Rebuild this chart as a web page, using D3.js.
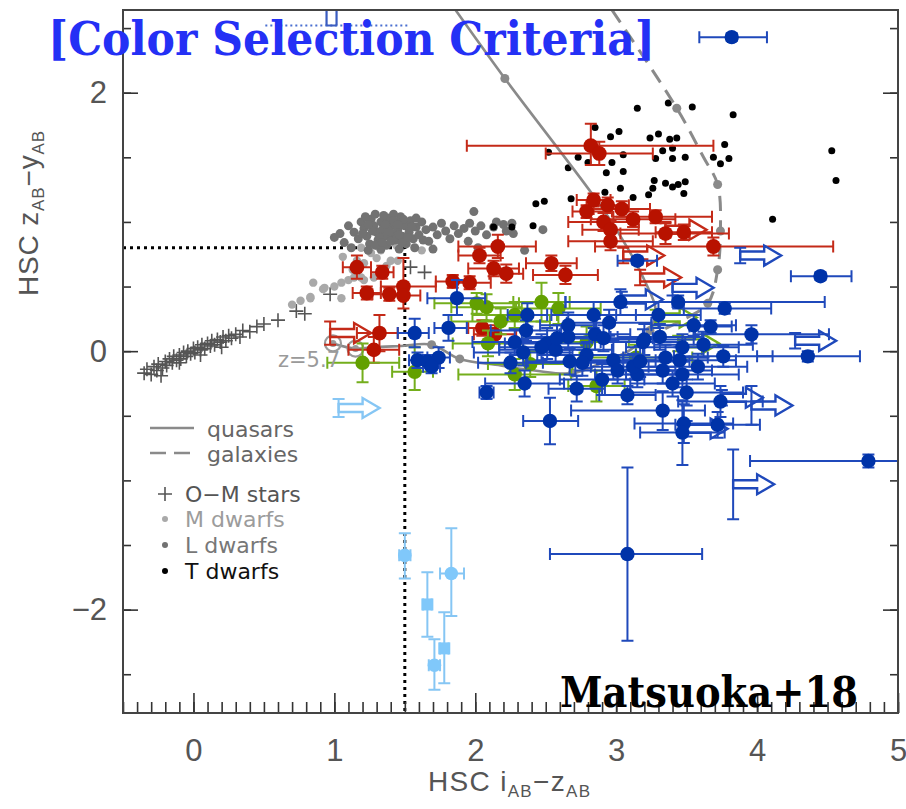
<!DOCTYPE html>
<html>
<head>
<meta charset="utf-8">
<script src="https://cdn.jsdelivr.net/npm/d3@7"></script>
<style>
  body { margin: 0; background: #fff; }
  svg { display: block; }
</style>
</head>
<body>
<svg id="chart" width="906" height="809"></svg>
<script>
// ---- Axis ticks -----------------------------------------------------------
const xTickLabels = [0, 1, 2, 3, 4, 5];
const yTickLabels = [-2, 0, 2];

// ---- Selection criteria corner (i-z > 1.5, z-y < 0.8) ---------------------
const cutIZ = 1.5;
const cutZY = 0.8;

// ---- Model tracks ---------------------------------------------------------
const quasarTrack = [[1.86,2.64],[2.21,2.11],[2.90,1.11],[3.08,0.80],[3.20,0.55],[3.28,0.32],[3.24,0.16],[3.10,0.01],[2.92,-0.08],[2.69,-0.17],[2.42,-0.15],[2.18,-0.11],[1.89,-0.06],[1.69,0.05],[1.47,0.04],[1.27,0.03],[1.15,0.02],[0.99,0.06]];
const quasarTrackDots = [[2.21,2.11],[1.69,0.05],[1.89,-0.06],[2.69,-0.17],[3.24,0.16]];
const quasarStart = [[0.99,0.06],[1.15,0.02]];
const galaxyTrack = [[2.97,2.64],[3.43,1.88],[3.62,1.50],[3.72,1.29],[3.74,0.94],[3.72,0.63],[3.65,0.37],[3.45,0.23],[3.28,0.14]];
const galaxyTrackDots = [[3.43,1.88],[3.72,1.29],[3.74,0.93],[3.72,0.63],[3.65,0.37]];

// ---- Stellar loci ---------------------------------------------------------
const omStars = [[-0.35,-0.17],[-0.33,-0.14],[-0.30,-0.18],[-0.28,-0.12],[-0.26,-0.15],[-0.25,-0.10],[-0.22,-0.13],[-0.20,-0.08],[-0.19,-0.11],[-0.17,-0.06],[-0.15,-0.09],[-0.14,-0.04],[-0.12,-0.07],[-0.10,-0.03],[-0.09,-0.06],[-0.07,-0.01],[-0.05,-0.04],[-0.04,0.00],[-0.02,-0.02],[0.00,0.02],[0.01,-0.01],[0.03,0.03],[0.05,0.01],[0.06,0.05],[0.08,0.02],[0.10,0.06],[0.12,0.04],[0.13,0.08],[0.15,0.05],[0.17,0.09],[0.19,0.07],[0.21,0.11],[0.23,0.08],[0.25,0.12],[0.27,0.10],[0.30,0.13],[0.33,0.11],[0.35,0.16],[0.40,0.15],[0.45,0.19],[0.50,0.21],[0.60,0.24],[0.73,0.31],[0.79,0.29],[0.97,0.44],[1.54,0.65],[1.64,0.61],[-0.23,-0.19],[-0.10,-0.09],[0.05,-0.03],[0.20,0.03]];
const mDwarfs = [[0.76,0.39],[0.70,0.36],[0.83,0.41],[0.92,0.48],[1.00,0.50],[1.05,0.53],[1.10,0.55],[1.14,0.57],[1.21,0.55],[1.28,0.57],[1.35,0.61],[0.85,0.53],[0.93,0.49],[1.06,0.73],[1.13,0.63],[1.19,0.57],[1.21,0.68],[1.26,0.76],[1.33,0.78],[1.40,0.70],[1.05,0.41],[0.83,0.42],[1.45,0.70],[1.62,0.78],[1.19,0.80],[1.44,0.82],[1.51,0.86],[1.30,0.72],[1.37,0.66],[1.16,0.70]];
const lDwarfs = [[1.00,0.88],[1.04,0.91],[1.07,0.84],[1.10,0.97],[1.14,0.92],[1.17,0.87],[1.19,1.00],[1.21,0.95],[1.23,0.89],[1.25,0.83],[1.26,1.02],[1.28,0.97],[1.30,0.92],[1.31,0.86],[1.33,1.00],[1.34,0.94],[1.36,0.89],[1.37,0.82],[1.38,1.03],[1.40,0.97],[1.41,0.91],[1.43,0.86],[1.44,1.00],[1.45,0.94],[1.47,1.04],[1.48,0.89],[1.50,0.97],[1.51,0.83],[1.53,0.92],[1.54,1.01],[1.56,0.87],[1.58,0.96],[1.60,0.90],[1.62,1.00],[1.65,0.94],[1.67,0.85],[1.70,0.96],[1.73,0.90],[1.76,0.99],[1.79,0.93],[1.82,0.87],[1.85,0.97],[1.88,0.91],[1.92,0.95],[1.96,0.99],[2.00,0.93],[2.04,0.97],[2.08,0.90],[2.13,0.96],[2.20,0.98],[2.27,0.91],[1.24,0.78],[1.33,0.79],[1.46,0.79],[1.12,0.80],[1.57,0.80],[1.70,0.79],[1.95,0.85],[2.02,0.80],[1.99,1.08],[2.15,1.00],[2.26,0.99],[2.48,0.94],[2.35,0.78],[2.22,0.93],[1.22,1.04],[1.29,1.06],[1.35,1.05],[1.42,1.06],[1.49,1.02],[1.27,0.93],[1.32,0.88],[1.39,0.93],[1.46,0.90],[1.52,0.88],[1.24,0.98],[1.36,0.98],[1.42,1.01],[1.55,0.96],[1.29,0.82],[1.40,0.85],[1.48,0.84],[1.58,1.03],[1.63,0.86],[1.20,0.91],[1.34,0.84],[1.45,0.98]];
const tDwarfs = [[3.15,1.88],[3.37,1.92],[3.54,1.89],[3.83,1.83],[2.85,1.73],[3.02,1.70],[2.96,1.66],[3.24,1.65],[3.30,1.68],[3.38,1.64],[3.43,1.65],[3.77,1.60],[2.52,1.54],[2.73,1.50],[3.05,1.52],[3.33,1.55],[3.40,1.57],[3.40,1.49],[3.49,1.50],[3.28,1.49],[3.69,1.50],[3.80,1.49],[3.74,1.45],[2.97,1.46],[2.66,1.42],[2.93,1.38],[3.05,1.39],[2.80,1.46],[3.27,1.32],[3.26,1.26],[3.35,1.30],[3.40,1.27],[3.44,1.29],[3.49,1.31],[3.48,1.22],[3.23,1.21],[3.12,1.19],[3.03,1.26],[2.92,1.23],[2.68,1.18],[2.49,1.16],[4.53,1.55],[4.56,1.32],[4.11,1.02],[2.41,0.97],[2.13,0.96],[2.26,0.96],[2.43,1.14]];

// ---- HSC quasar candidates: [i-z, z-y, -dx, +dx, -dy, +dy] ----------------
const redObjects = [[2.82,1.59,0.88,0.87,0.15,0.17],[2.88,1.53,0.38,0.38,0.09,0.09],[2.79,1.08,0.10,0.18,0.05,0.05],[2.94,1.13,0.15,0.15,0.06,0.06],[3.04,1.10,0.20,0.20,0.06,0.06],[2.91,1.00,0.25,0.25,0.07,0.07],[2.96,0.94,0.20,0.20,0.07,0.07],[2.96,0.85,0.30,0.30,0.07,0.07],[3.12,1.02,0.30,0.30,0.06,0.06],[3.28,1.04,0.30,0.40,0.05,0.05],[3.35,0.91,0.32,0.45,0.08,0.08],[3.48,0.92,0.20,0.20,0.06,0.06],[3.69,0.81,0.84,0.85,0.07,0.07],[2.84,1.17,0.12,0.12,0.05,0.05],[2.16,0.81,0.28,0.27,0.09,0.09],[2.03,0.74,0.15,0.15,0.06,0.06],[2.13,0.64,0.18,0.18,0.06,0.06],[2.22,0.60,0.12,0.12,0.07,0.07],[2.54,0.68,0.18,0.18,0.06,0.06],[2.64,0.59,0.23,0.23,0.07,0.07],[1.96,0.53,0.15,0.15,0.05,0.05],[1.84,0.54,0.12,0.12,0.05,0.05],[1.16,0.65,0.10,0.10,0.09,0.09],[1.34,0.61,0.08,0.08,0.05,0.05],[1.23,0.45,0.10,0.10,0.05,0.05],[1.39,0.44,0.12,0.12,0.05,0.05],[1.49,0.50,0.16,0.23,0.06,0.22],[1.49,0.43,0.12,0.12,0.10,0.04],[1.32,0.14,0.16,0.13,0.14,0.14],[1.28,0.01,0.18,0.18,0.10,0.10],[2.05,0.18,0.10,0.10,0.06,0.06],[2.14,0.13,0.15,0.15,0.07,0.07]];
const greenObjects = [[1.20,-0.09,0.25,0.26,0.15,0.15],[1.57,-0.16,0.16,0.13,0.14,0.19],[2.01,0.37,0.30,0.30,0.08,0.08],[2.08,0.34,0.25,0.25,0.10,0.10],[2.47,0.38,0.20,0.20,0.15,0.15],[2.59,0.33,0.30,0.30,0.12,0.12],[2.09,0.06,0.25,0.25,0.10,0.10],[2.18,0.23,0.35,0.35,0.10,0.10],[2.28,0.28,0.30,0.30,0.10,0.10],[2.28,-0.18,0.40,0.40,0.12,0.12],[2.39,-0.10,0.30,0.30,0.10,0.10],[2.79,0.07,0.30,0.30,0.12,0.12],[2.86,-0.27,0.20,0.20,0.12,0.12],[3.14,-0.05,0.40,0.40,0.10,0.10]];
const blueObjects = [[3.82,2.43,0.23,0.25,0.03,0.03],[4.45,0.58,0.21,0.22,0.03,0.03],[3.08,-1.57,0.55,0.53,0.67,0.67],[4.79,-0.85,0.84,0.50,0.05,0.05],[2.53,-0.54,0.19,0.20,0.18,0.18],[2.08,-0.32,0.05,0.05,0.05,0.05],[1.87,0.41,0.21,0.20,0.13,0.14],[1.57,0.14,0.12,0.10,0.11,0.11],[1.81,0.18,0.10,0.13,0.10,0.10],[1.59,-0.07,0.06,0.07,0.06,0.06],[1.66,-0.08,0.07,0.07,0.05,0.05],[1.74,-0.05,0.08,0.08,0.08,0.08],[1.69,-0.12,0.06,0.06,0.05,0.05],[2.25,-0.09,0.23,0.23,0.08,0.08],[2.37,0.28,0.14,0.14,0.09,0.09],[2.36,0.16,0.25,0.25,0.08,0.08],[2.28,0.07,0.30,0.30,0.10,0.10],[2.34,-0.01,0.35,0.35,0.10,0.10],[2.35,-0.25,0.28,0.28,0.10,0.10],[2.51,0.06,0.30,0.30,0.12,0.12],[2.57,0.01,0.40,0.40,0.10,0.10],[2.66,0.20,0.20,0.20,0.10,0.10],[2.66,0.11,0.30,0.30,0.10,0.10],[2.84,0.28,0.30,0.30,0.10,0.10],[2.85,0.13,0.25,0.25,0.12,0.12],[2.79,-0.03,0.35,0.35,0.10,0.10],[2.76,-0.09,0.40,0.40,0.10,0.10],[2.72,-0.29,0.20,0.20,0.10,0.10],[2.90,-0.22,0.30,0.30,0.12,0.12],[2.98,-0.07,0.30,0.30,0.15,0.15],[3.01,-0.15,0.30,0.30,0.10,0.10],[3.08,-0.34,0.20,0.20,0.07,0.07],[3.03,0.38,0.39,0.37,0.10,0.10],[3.20,0.09,0.35,0.35,0.12,0.12],[3.15,-0.18,0.30,0.30,0.10,0.10],[3.15,0.70,0.14,0.14,0.03,0.03],[3.44,0.38,0.80,1.04,0.05,0.05],[3.77,0.33,0.29,0.33,0.04,0.04],[3.30,0.28,0.30,0.30,0.10,0.10],[3.67,0.19,0.15,0.15,0.05,0.05],[3.96,0.13,0.40,0.55,0.07,0.07],[4.36,-0.04,0.36,0.37,0.04,0.04],[3.76,-0.04,0.35,0.35,0.08,0.08],[3.47,0.03,0.40,0.40,0.10,0.10],[3.31,0.11,0.30,0.30,0.10,0.10],[3.45,-0.07,0.40,0.40,0.10,0.10],[3.35,-0.05,0.30,0.30,0.10,0.10],[3.58,-0.12,0.35,0.35,0.10,0.10],[3.47,-0.18,0.40,0.40,0.10,0.10],[3.33,-0.15,0.35,0.35,0.10,0.10],[3.19,0.07,0.30,0.30,0.10,0.10],[3.50,-0.32,0.40,0.40,0.10,0.10],[3.74,-0.39,0.30,0.30,0.12,0.12],[3.33,-0.46,0.65,0.30,0.15,0.15],[3.48,-0.56,0.35,0.35,0.15,0.15],[3.47,-0.63,0.30,0.30,0.25,0.25],[3.72,-0.57,0.30,0.30,0.10,0.10],[3.12,-0.12,0.30,0.30,0.10,0.10],[2.58,0.10,0.25,0.25,0.10,0.10],[2.91,0.10,0.35,0.35,0.10,0.10],[2.47,0.03,0.30,0.30,0.10,0.10],[3.17,-0.08,0.35,0.35,0.12,0.12],[2.67,-0.08,0.30,0.30,0.10,0.10],[3.55,0.20,0.30,0.30,0.08,0.08],[3.62,0.05,0.35,0.35,0.10,0.10],[3.40,-0.25,0.30,0.30,0.10,0.10],[2.95,0.22,0.30,0.30,0.10,0.10]];
const lightBlueObjects = [[1.50,-1.58,0.04,0.04,0.18,0.17],[1.71,-2.43,0.04,0.04,0.19,0.20],[1.83,-1.72,0.08,0.09,0.33,0.35]];
const lightBlueSquares = [[1.66,-1.96,0.03,0.03,0.25,0.25],[1.78,-2.30,0.03,0.03,0.27,0.28]];

// Lower limits in i-z: [i-z, z-y, dy]
const redLimits = [[0.97,0.14,0.09],[3.05,0.74,0.06],[3.17,0.57,0.06],[3.35,0.94,0.06]];
const greenLimits = [[3.28,0.26,0.06],[3.44,0.06,0.06]];
const blueLimits = [[3.88,0.74,0.06],[3.40,0.49,0.06],[3.04,0.40,0.06],[4.27,0.08,0.06],[3.75,-0.36,0.06],[3.96,-0.42,0.15],[3.50,-0.60,0.06],[3.83,-1.03,0.27]];
const lightBlueLimits = [[1.03,-0.44,0.07]];
// Lower limit in z-y (clipped at the top) with its i-z range
const blueUpLimit = [[0.98,2.52,0.47,0.54]];

// ---- Layout -----------------------------------------------------------------
const svg = d3.select('#chart');
const L = 123, R = 898, T = 10, B = 713;
const x = d3.scaleLinear().domain([-0.5, 5.0]).range([L, R]);
const y = d3.scaleLinear().domain([-2.8, 2.64]).range([B, T]);

const COLORS = {
  red: '#b81200', redBar: '#c42a18',
  green: '#63a000', greenBar: '#74ae1c',
  blue: '#0033a8', blueBar: '#1f49bb',
  lblue: '#80c8fa', lblueBar: '#86c6f4'
};

svg.append('defs').append('clipPath').attr('id', 'plotClip')
  .append('rect').attr('x', L).attr('y', T).attr('width', R - L).attr('height', B - T);

const plot = svg.append('g').attr('clip-path', 'url(#plotClip)');

// selection criteria (dotted)
plot.append('path')
  .attr('d', `M${x(-0.5)},${y(cutZY)}L${x(cutIZ)},${y(cutZY)}L${x(cutIZ)},${y(-2.8)}`)
  .attr('fill', 'none').attr('stroke', '#000').attr('stroke-width', 3)
  .attr('stroke-dasharray', '3,4');

// O-M stars
plot.append('g').selectAll('path').data(omStars).join('path')
  .attr('d', d => `M${x(d[0]) - 7},${y(d[1])}h14M${x(d[0])},${y(d[1]) - 7}v14`)
  .attr('stroke', '#555').attr('stroke-width', 1.6).attr('fill', 'none');

// M, L, T dwarfs
plot.append('g').selectAll('circle').data(mDwarfs).join('circle')
  .attr('cx', d => x(d[0])).attr('cy', d => y(d[1])).attr('r', 4.2).attr('fill', '#a9a9a9');
plot.append('g').selectAll('circle').data(lDwarfs).join('circle')
  .attr('cx', d => x(d[0])).attr('cy', d => y(d[1])).attr('r', 4.5).attr('fill', '#727272');
plot.append('g').selectAll('circle').data(tDwarfs).join('circle')
  .attr('cx', d => x(d[0])).attr('cy', d => y(d[1])).attr('r', 3.5).attr('fill', '#000');

// model tracks
const line = d3.line().x(d => x(d[0])).y(d => y(d[1])).curve(d3.curveCatmullRom.alpha(0.5));
plot.append('path').datum(quasarTrack).attr('d', line)
  .attr('fill', 'none').attr('stroke', '#8a8a8a').attr('stroke-width', 2.6);
plot.append('path').datum(galaxyTrack).attr('d', line)
  .attr('fill', 'none').attr('stroke', '#8a8a8a').attr('stroke-width', 3)
  .attr('stroke-dasharray', '15,9');
plot.append('g').selectAll('circle').data(quasarTrackDots.concat(galaxyTrackDots)).join('circle')
  .attr('cx', d => x(d[0])).attr('cy', d => y(d[1])).attr('r', 4.5).attr('fill', '#8a8a8a');
const starts = plot.append('g');
starts.selectAll('circle.ring').data(quasarStart).join('circle').attr('class', 'ring')
  .attr('cx', d => x(d[0])).attr('cy', d => y(d[1])).attr('r', 8)
  .attr('fill', 'none').attr('stroke', '#9a9a9a').attr('stroke-width', 2.2);
starts.selectAll('circle.core').data(quasarStart).join('circle').attr('class', 'core')
  .attr('cx', d => x(d[0])).attr('cy', d => y(d[1])).attr('r', 3.5).attr('fill', '#9a9a9a');

svg.append('text').attr('x', 278).attr('y', 367).text('z=5.7')
  .attr('font-family', 'DejaVu Sans, sans-serif').attr('font-size', 21).attr('fill', '#9a9a9a');

// error bars and symbols
const CAP = 6;
function drawErrors(g, data, color) {
  data.forEach(d => {
    const [vx, vy, exl, exh, eyl, eyh] = d;
    const cx = x(vx), cy = y(vy);
    const x1 = x(vx - exl), x2 = x(vx + exh), y1 = y(vy - eyl), y2 = y(vy + eyh);
    const p = `M${x1},${cy}H${x2}M${x1},${cy - CAP}V${cy + CAP}M${x2},${cy - CAP}V${cy + CAP}` +
              `M${cx},${y1}V${y2}M${cx - CAP},${y1}H${cx + CAP}M${cx - CAP},${y2}H${cx + CAP}`;
    g.append('path').attr('d', p).attr('fill', 'none').attr('stroke', color).attr('stroke-width', 2);
  });
}
function drawLimits(g, data, color) {
  data.forEach(d => {
    const [vx, vy, ey] = d;
    const x0 = x(vx), cy = y(vy);
    const p = `M${x0},${cy - 4}H${x0 + 24}V${cy - 10}L${x0 + 41},${cy}L${x0 + 24},${cy + 10}V${cy + 4}H${x0}Z`;
    g.append('path').attr('d', p).attr('fill', 'none').attr('stroke', color)
      .attr('stroke-width', 2.4).attr('stroke-linejoin', 'miter');
    const y1 = y(vy - ey), y2 = y(vy + ey);
    g.append('path').attr('d', `M${x0},${y1}V${y2}M${x0 - CAP},${y1}H${x0 + CAP}M${x0 - CAP},${y2}H${x0 + CAP}`)
      .attr('fill', 'none').attr('stroke', color).attr('stroke-width', 2);
  });
}
function drawPoints(g, data, color, r) {
  g.selectAll(null).data(data).join('circle')
    .attr('cx', d => x(d[0])).attr('cy', d => y(d[1])).attr('r', r).attr('fill', color);
}

const red = plot.append('g');
drawErrors(red, redObjects, COLORS.redBar);
drawLimits(red, redLimits, COLORS.redBar);
drawPoints(red, redObjects, COLORS.red, 7.4);

const green = plot.append('g');
drawErrors(green, greenObjects, COLORS.greenBar);
drawLimits(green, greenLimits, COLORS.greenBar);
drawPoints(green, greenObjects, COLORS.green, 7.2);

const blue = plot.append('g');
drawErrors(blue, blueObjects, COLORS.blueBar);
drawLimits(blue, blueLimits, COLORS.blueBar);
drawPoints(blue, blueObjects, COLORS.blue, 7.2);
blueUpLimit.forEach(d => {
  const cx = x(d[0]), cy = y(d[1]);
  blue.append('path').attr('d', `M${x(d[0] - d[2])},${cy}H${x(d[0] + d[3])}`)
    .attr('stroke', '#4a6fd0').attr('stroke-width', 2).attr('stroke-dasharray', '2,3');
  blue.append('path').attr('d', `M${cx - 5},${cy}V${cy - 30}M${cx + 5},${cy}V${cy - 30}M${cx - 5},${cy}H${cx + 5}`)
    .attr('fill', 'none').attr('stroke', '#3a5cc0').attr('stroke-width', 2.2);
});

const lb = plot.append('g');
drawErrors(lb, lightBlueObjects.concat(lightBlueSquares), COLORS.lblueBar);
drawLimits(lb, lightBlueLimits, COLORS.lblueBar);
drawPoints(lb, lightBlueObjects, COLORS.lblue, 6.8);
lb.selectAll(null).data(lightBlueSquares).join('rect')
  .attr('x', d => x(d[0]) - 6).attr('y', d => y(d[1]) - 6).attr('width', 12).attr('height', 12)
  .attr('fill', COLORS.lblue);

// ---- Axes ---------------------------------------------------------------
const tickFont = 'Liberation Sans, Arial, sans-serif';
const fmt = d => (d < 0 ? '\u2212' + Math.abs(d) : String(d));
const axes = svg.append('g');

axes.append('g').attr('transform', `translate(0,${B})`)
  .call(d3.axisBottom(x).ticks(55).tickSize(-11).tickFormat(''));
axes.append('g').attr('transform', `translate(0,${B})`)
  .call(d3.axisBottom(x).tickValues(xTickLabels).tickSize(-20).tickPadding(26).tickFormat(fmt));
axes.append('g').attr('transform', `translate(${L},0)`)
  .call(d3.axisLeft(y).ticks(10).tickSize(-8).tickFormat(''));
axes.append('g').attr('transform', `translate(${L},0)`)
  .call(d3.axisLeft(y).tickValues(yTickLabels).tickSize(-15).tickPadding(16).tickFormat(fmt));
axes.append('g').attr('transform', `translate(${R},0)`)
  .call(d3.axisRight(y).ticks(10).tickSize(-8).tickFormat(''));
axes.append('g').attr('transform', `translate(${R},0)`)
  .call(d3.axisRight(y).tickValues(yTickLabels).tickSize(-15).tickFormat(''));

axes.selectAll('.domain').remove();
axes.selectAll('.tick line').attr('stroke', '#333').attr('stroke-width', 1.6);
axes.selectAll('.tick text').attr('font-family', tickFont).attr('font-size', 31).attr('fill', '#555');

svg.append('rect').attr('x', L).attr('y', T).attr('width', R - L).attr('height', B - T)
  .attr('fill', 'none').attr('stroke', '#444').attr('stroke-width', 2);

// axis titles
const titleFont = 'Liberation Sans, Arial, sans-serif';
const xt = svg.append('text').attr('x', 428).attr('y', 791)
  .attr('font-family', titleFont).attr('font-size', 28).attr('fill', '#555')
  .attr('textLength', 162).attr('lengthAdjust', 'spacing');
xt.append('tspan').text('HSC i');
xt.append('tspan').attr('font-size', 17).attr('dy', 6).text('AB');
xt.append('tspan').attr('dy', -6).text('\u2212z');
xt.append('tspan').attr('font-size', 17).attr('dy', 6).text('AB');

const yt = svg.append('text').attr('transform', 'translate(38,296) rotate(-90)')
  .attr('font-family', titleFont).attr('font-size', 28).attr('fill', '#555')
  .attr('textLength', 165).attr('lengthAdjust', 'spacing');
yt.append('tspan').text('HSC z');
yt.append('tspan').attr('font-size', 17).attr('dy', 6).text('AB');
yt.append('tspan').attr('dy', -6).text('\u2212y');
yt.append('tspan').attr('font-size', 17).attr('dy', 6).text('AB');

// ---- Legend ---------------------------------------------------------------
const legendFont = 'DejaVu Sans, sans-serif';
const lg = svg.append('g').attr('font-family', legendFont).attr('font-size', 22);
lg.append('path').attr('d', 'M150,428H194').attr('stroke', '#8a8a8a').attr('stroke-width', 2.6);
lg.append('path').attr('d', 'M150,453H166M174,453H190').attr('stroke', '#8a8a8a').attr('stroke-width', 2.6);
lg.append('text').attr('x', 207).attr('y', 437).attr('fill', '#666').text('quasars');
lg.append('text').attr('x', 207).attr('y', 462).attr('fill', '#666').text('galaxies');
lg.append('path').attr('d', 'M158,494H172M165,487V501').attr('stroke', '#555').attr('stroke-width', 1.6);
lg.append('text').attr('x', 185).attr('y', 502).attr('fill', '#555').text('O\u2212M stars');
const legendDots = [['M dwarfs', '#a9a9a9', '#9c9c9c', 519], ['L dwarfs', '#727272', '#777', 545], ['T dwarfs', '#000', '#111', 571]];
legendDots.forEach(([name, dot, txt, cy]) => {
  lg.append('circle').attr('cx', 165).attr('cy', cy).attr('r', 3).attr('fill', dot);
  lg.append('text').attr('x', 185).attr('y', cy + 8).attr('fill', txt).text(name);
});

// ---- Headline and reference --------------------------------------------
svg.append('text').attr('x', 48).attr('y', 55)
  .attr('font-family', 'DejaVu Serif, serif').attr('font-weight', 'bold')
  .attr('font-size', 46).attr('fill', '#2430f5')
  .attr('textLength', 607).attr('lengthAdjust', 'spacingAndGlyphs')
  .text('[Color Selection Criteria]');
svg.append('text').attr('x', 560).attr('y', 707)
  .attr('font-family', 'DejaVu Serif, serif').attr('font-weight', 'bold')
  .attr('font-size', 43).attr('fill', '#000')
  .attr('textLength', 298).attr('lengthAdjust', 'spacingAndGlyphs')
  .text('Matsuoka+18');
</script>
</body>
</html>
